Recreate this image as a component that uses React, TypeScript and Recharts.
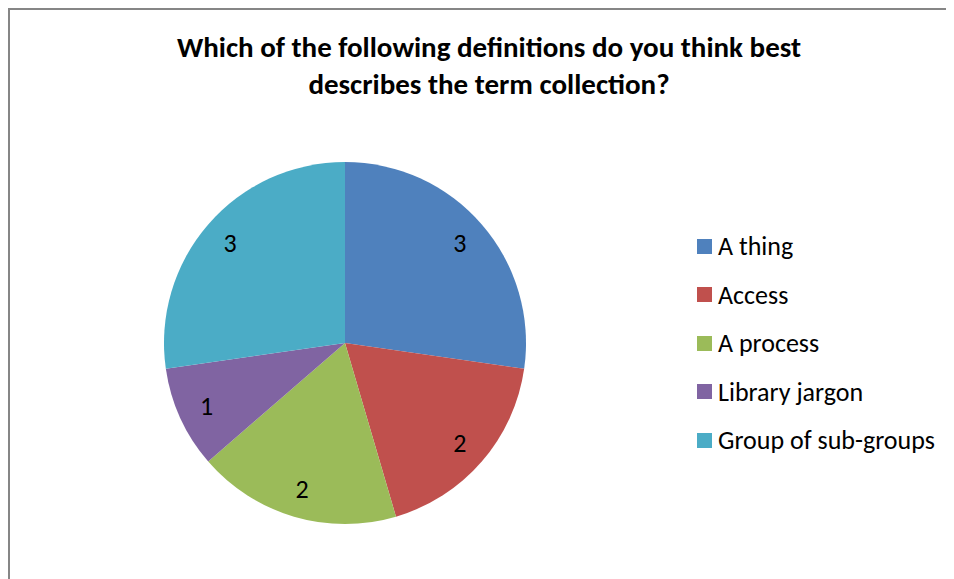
import { PieChart, Pie, Cell, Legend } from "recharts";

const categories = ["A thing", "Access", "A process", "Library jargon", "Group of sub-groups"];
const counts = [3, 2, 2, 1, 3];
const colors = ["#4F81BD", "#C0504D", "#9BBB59", "#8064A2", "#4BACC6"];
const titleLines = [
  "Which of the following definitions do you think best",
  "describes the term collection?",
];

const data = categories.map((name, i) => ({ name, value: counts[i] }));

const FONT = "Calibri, Carlito, 'Open Sans', sans-serif";
const RADIAN = Math.PI / 180;

const renderLabel = ({ cx, cy, midAngle, outerRadius, value }: any) => {
  const r = outerRadius * 0.84;
  const x = cx + r * Math.cos(-midAngle * RADIAN);
  const y = cy + r * Math.sin(-midAngle * RADIAN);
  return (
    <text
      x={x}
      y={y}
      fill="#000"
      textAnchor="middle"
      dominantBaseline="central"
      fontFamily={FONT}
      fontSize={26}
    >
      {value}
    </text>
  );
};

const LegendContent = () => (
  <div style={{ fontFamily: FONT, fontSize: 26, color: "#000" }}>
    {categories.map((c, i) => (
      <div
        key={c}
        style={{ display: "flex", alignItems: "center", height: 48.5 }}
      >
        <span
          style={{
            width: 15,
            height: 15,
            background: colors[i],
            marginRight: 6,
            display: "inline-block",
          }}
        />
        <span>{c}</span>
      </div>
    ))}
  </div>
);

export default function App() {
  return (
    <div
      style={{
        width: 946,
        height: 571,
        borderLeft: "2px solid #868686",
        borderTop: "2px solid #868686",
        background: "#fff",
        position: "relative",
      }}
    >
      <PieChart
        width={944}
        height={569}
        margin={{ top: 0, right: 0, bottom: 0, left: 0 }}
      >
        {titleLines.map((t, i) => (
          <text
            key={t}
            x={479}
            y={37 + i * 37}
            textAnchor="middle"
            dominantBaseline="central"
            fontFamily={FONT}
            fontWeight="bold"
            fontSize={29}
            fill="#000"
          >
            {t}
          </text>
        ))}
        <Pie
          data={data}
          dataKey="value"
          nameKey="name"
          cx={335}
          cy={333}
          outerRadius={181}
          startAngle={90}
          endAngle={-270}
          stroke="none"
          label={renderLabel}
          labelLine={false}
          isAnimationActive={false}
        >
          {data.map((d, i) => (
            <Cell key={d.name} fill={colors[i]} />
          ))}
        </Pie>
        <Legend
          layout="vertical"
          verticalAlign="middle"
          align="right"
          wrapperStyle={{ left: 687, top: 212, right: "auto", width: 257 }}
          content={<LegendContent />}
        />
      </PieChart>
    </div>
  );
}
